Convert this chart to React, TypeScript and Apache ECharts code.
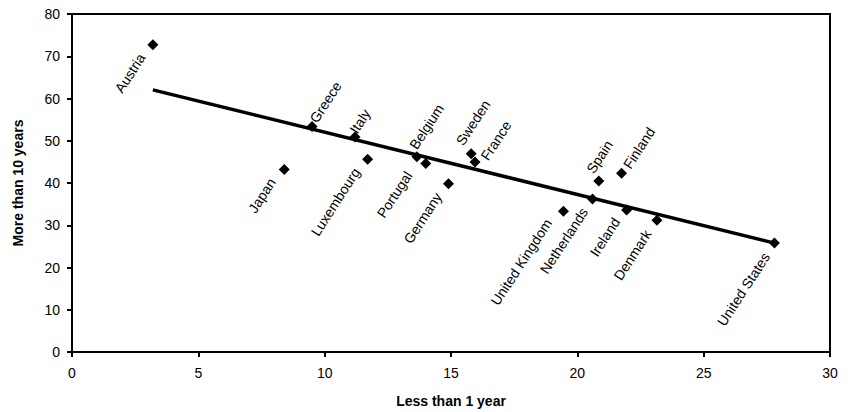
import React, { useEffect, useRef } from "react";
import * as echarts from "echarts";

// Share of employees by job tenure, per country
const countries = [
  "Austria", "Japan", "Greece", "Italy", "Luxembourg", "Belgium", "Portugal", "Germany",
  "Sweden", "France", "United Kingdom", "Netherlands", "Spain", "Finland", "Ireland",
  "Denmark", "United States",
];
const lessThan1Year = [
  3.2, 8.4, 9.5, 11.2, 11.7, 13.65, 14.0, 14.9, 15.8, 15.95, 19.45, 20.6, 20.85, 21.75,
  21.95, 23.15, 27.8,
];
const moreThan10Years = [
  72.7, 43.2, 53.4, 50.9, 45.6, 46.2, 44.6, 39.8, 46.9, 45.0, 33.3, 36.2, 40.5, 42.3,
  33.6, 31.2, 25.8,
];
// Label placement: "a" = text starts at the marker and rises to the right,
// "b" = text ends at the marker, coming from the lower left
const labelSide = ["b", "b", "a", "a", "b", "a", "b", "b", "a", "a", "b", "b", "a", "a", "b", "b", "b"];
const labelShift: [number, number][] = [
  [-11, 10], [-12, 10], [1, -5], [-2, -5], [-11, 10], [-4, -9], [-17, 9], [-10, 10],
  [-12, -10], [9, -3], [-15, 9], [-8, 10], [-9, -9], [5, -6], [-10, 9], [-9, 11], [-8, 11],
];

const xTicks = { min: 0, max: 30, interval: 5 };
const yTicks = { min: 0, max: 80, interval: 10 };

function trendLine(xs: number[], ys: number[]): [number, number][] {
  const n = xs.length;
  const mx = xs.reduce((s, v) => s + v, 0) / n;
  const my = ys.reduce((s, v) => s + v, 0) / n;
  let sxy = 0;
  let sxx = 0;
  for (let i = 0; i < n; i++) {
    sxy += (xs[i] - mx) * (ys[i] - my);
    sxx += (xs[i] - mx) * (xs[i] - mx);
  }
  const slope = sxy / sxx;
  const x0 = Math.min(...xs);
  const x1 = Math.max(...xs);
  return [
    [x0, my + slope * (x0 - mx)],
    [x1, my + slope * (x1 - mx)],
  ];
}

const FONT = "Liberation Sans, Arial, sans-serif";
const MARKER = 11;

export default function App() {
  const ref = useRef<HTMLDivElement>(null);

  useEffect(() => {
    if (!ref.current) return;
    const chart = echarts.init(ref.current, undefined, { renderer: "svg" });

    const half = MARKER / 2;
    const points = countries.map((name, i) => ({
      name,
      value: [lessThan1Year[i], moreThan10Years[i]],
      label: {
        show: true,
        formatter: name,
        // position relative to the marker's box, so rotation pivots on this point
        position: [half + labelShift[i][0], half + labelShift[i][1]],
        align: labelSide[i] === "a" ? "left" : "right",
        verticalAlign: "middle",
        rotate: 57,
        color: "#000",
        opacity: 1,
        textBorderWidth: 0,
        fontFamily: FONT,
        fontSize: 14,
      },
    }));

    chart.setOption({
      animation: false,
      backgroundColor: "#fff",
      textStyle: { fontFamily: FONT },
      grid: {
        left: 72,
        right: 19,
        top: 14,
        bottom: 60,
        outerBoundsMode: "none",
        containLabel: false,
        show: true,
        borderColor: "#000",
        borderWidth: 2,
      },
      xAxis: {
        type: "value",
        ...xTicks,
        name: "Less than 1 year",
        nameLocation: "middle",
        nameGap: 42,
        nameTextStyle: { color: "#000", fontWeight: "bold", fontSize: 14, fontFamily: FONT },
        axisLine: { show: true, lineStyle: { color: "#000", width: 2 } },
        axisTick: { show: true, length: 5, lineStyle: { color: "#000", width: 2 } },
        axisLabel: { color: "#000", fontSize: 14, margin: 14, fontFamily: FONT },
        splitLine: { show: false },
      },
      yAxis: {
        type: "value",
        ...yTicks,
        name: "More than 10 years",
        nameLocation: "middle",
        nameGap: 47,
        nameTextStyle: { color: "#000", fontWeight: "bold", fontSize: 14, fontFamily: FONT },
        axisLine: { show: true, lineStyle: { color: "#000", width: 2 } },
        axisTick: { show: true, length: 5, lineStyle: { color: "#000", width: 2 } },
        axisLabel: { color: "#000", fontSize: 14, margin: 12, fontFamily: FONT },
        splitLine: { show: false },
      },
      series: [
        {
          type: "line",
          data: trendLine(lessThan1Year, moreThan10Years),
          showSymbol: false,
          symbol: "none",
          lineStyle: { color: "#000", width: 3.5 },
          silent: true,
          z: 1,
        },
        {
          type: "scatter",
          data: points,
          symbol: "diamond",
          symbolSize: MARKER,
          itemStyle: { color: "#000", opacity: 1 },
          z: 2,
        },
      ],
    });

    return () => chart.dispose();
  }, []);

  return <div ref={ref} style={{ width: 849, height: 412, position: "absolute", left: 0, top: 0 }} />;
}
